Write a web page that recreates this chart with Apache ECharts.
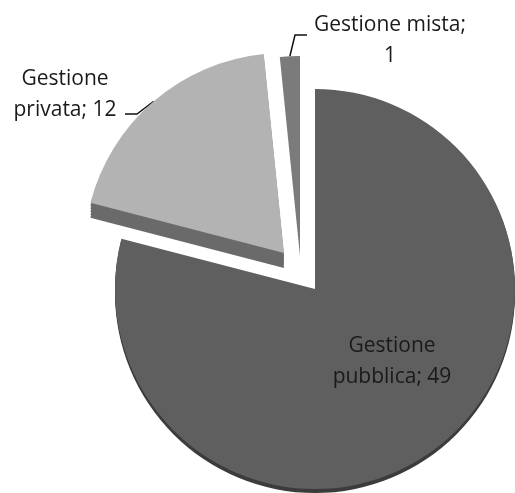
<!DOCTYPE html>
<html>
<head>
<meta charset="utf-8">
<script src="https://cdn.jsdelivr.net/npm/echarts@6/dist/echarts.min.js"></script>
<style>
  html, body { margin: 0; padding: 0; background: #fff; }
  #chart { width: 515px; height: 493px; }
</style>
</head>
<body>
<div id="chart"></div>
<script>
// Categories and values
const names = ['Gestione pubblica', 'Gestione privata', 'Gestione mista'];
const values = [49, 12, 1];

// Styling per slice: top face, side face, extrusion depth and explode shift
const topColors = ['#5f5f5f', '#b3b3b3', '#7b7b7b'];
const sideColors = ['#3c3c3c', '#6a6a6a', '#5c5c5c'];
const depths = [4, 15, 0];
const shifts = [[0, 0], [-31, -36], [-15, -33]];

const base = [315, 289];
const radius = 200;

function labelText(p) {
  if (p.dataIndex === 2) return p.name + ';\n' + p.value;
  return p.name.replace(' ', '\n') + '; ' + p.value;
}

// Places each slice label and bends its leader line
function placeLabel(p) {
  const p0 = p.labelLinePoints ? p.labelLinePoints[0] : null;
  if (p.dataIndex === 0) {
    return { x: 392, y: 362, align: 'center', verticalAlign: 'middle' };
  }
  if (p.dataIndex === 1) {
    const x = 65, y = 95;
    const out = { x: x, y: y, align: 'center', verticalAlign: 'middle' };
    if (p0) out.labelLinePoints = [p0, [x + 72, y + 19], [x + 60, y + 19]];
    return out;
  }
  const x = 390, y = 41;
  const out = { x: x, y: y, align: 'center', verticalAlign: 'middle' };
  if (p0) out.labelLinePoints = [p0, [x - 95, y - 6], [x - 83, y - 6]];
  return out;
}

function slicePie(k, dy, color, withLabel) {
  const s = {
    type: 'pie',
    silent: true,
    radius: radius,
    center: [base[0] + shifts[k][0], base[1] + shifts[k][1] + dy],
    startAngle: 90,
    clockwise: true,
    minShowLabelAngle: 0,
    avoidLabelOverlap: false,
    animation: false,
    emphasis: { disabled: true },
    data: values.map((v, i) => ({
      name: names[i],
      value: v,
      itemStyle: { color: i === k ? color : 'rgba(0,0,0,0)', borderWidth: 0 },
      label: {
        show: withLabel && i === k,
        position: i === 0 ? 'inside' : 'outside',
        formatter: labelText,
        fontFamily: 'Open Sans',
        fontSize: 21,
        lineHeight: 31,
        color: '#1a1a1a',
        align: 'center'
      },
      labelLine: {
        show: withLabel && i === k && i !== 0,
        length: 12,
        length2: 12,
        lineStyle: { color: '#111', width: 1.5 }
      }
    }))
  };
  if (withLabel) s.labelLayout = placeLabel;
  return s;
}

const series = [];
// side faces first, drawn as stacked copies below each slice
for (let k = 0; k < values.length; k++) {
  for (let d = depths[k]; d > 0; d -= 3) {
    series.push(slicePie(k, d, sideColors[k], false));
  }
}
// top faces with labels
for (let k = 0; k < values.length; k++) {
  series.push(slicePie(k, 0, topColors[k], true));
}

const chart = echarts.init(document.getElementById('chart'), null, { renderer: 'canvas' });
chart.setOption({
  backgroundColor: '#ffffff',
  animation: false,
  series: series
});
</script>
</body>
</html>
